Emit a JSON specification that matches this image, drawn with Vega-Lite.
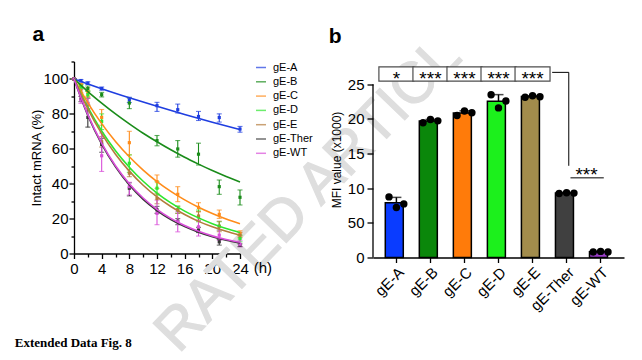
{
  "$schema": "https://vega.github.io/schema/vega-lite/v6.json",
  "background": "white",
  "padding": {"left": 14, "top": 23.5, "right": 5, "bottom": 0},
  "config": {
    "font": "Liberation Sans",
    "view": {"stroke": null},
    "axis": {"labelFont": "Liberation Sans", "titleFont": "Liberation Sans", "labelColor": "black", "titleColor": "black", "domainColor": "black", "tickColor": "black", "grid": false, "titleFontWeight": "normal", "domainWidth": 1.3, "tickWidth": 1.3, "labelFlush": false, "labelOverlap": false}
  },
  "datasets": {
    "curves": [
      {"series": "gE-A", "t": 0, "pct": 100}, {"series": "gE-A", "t": 4, "pct": 94.4}, {"series": "gE-A", "t": 8, "pct": 89.2}, {"series": "gE-A", "t": 12, "pct": 84.3}, {"series": "gE-A", "t": 16, "pct": 79.6}, {"series": "gE-A", "t": 20, "pct": 75.2}, {"series": "gE-A", "t": 24, "pct": 71.0},
      {"series": "gE-B", "t": 0, "pct": 100}, {"series": "gE-B", "t": 2, "pct": 92.8}, {"series": "gE-B", "t": 4, "pct": 86.2}, {"series": "gE-B", "t": 6, "pct": 80.0}, {"series": "gE-B", "t": 8, "pct": 74.3}, {"series": "gE-B", "t": 10, "pct": 68.9}, {"series": "gE-B", "t": 12, "pct": 64.0}, {"series": "gE-B", "t": 14, "pct": 59.4}, {"series": "gE-B", "t": 16, "pct": 55.1}, {"series": "gE-B", "t": 18, "pct": 51.2}, {"series": "gE-B", "t": 20, "pct": 47.5}, {"series": "gE-B", "t": 22, "pct": 44.1}, {"series": "gE-B", "t": 24, "pct": 41.0},
      {"series": "gE-C", "t": 0, "pct": 100}, {"series": "gE-C", "t": 2, "pct": 86.3}, {"series": "gE-C", "t": 4, "pct": 74.4}, {"series": "gE-C", "t": 6, "pct": 64.2}, {"series": "gE-C", "t": 8, "pct": 55.4}, {"series": "gE-C", "t": 10, "pct": 47.8}, {"series": "gE-C", "t": 12, "pct": 41.2}, {"series": "gE-C", "t": 14, "pct": 35.6}, {"series": "gE-C", "t": 16, "pct": 30.7}, {"series": "gE-C", "t": 18, "pct": 26.5}, {"series": "gE-C", "t": 20, "pct": 22.9}, {"series": "gE-C", "t": 22, "pct": 19.7}, {"series": "gE-C", "t": 24, "pct": 17.0},
      {"series": "gE-D", "t": 0, "pct": 100}, {"series": "gE-D", "t": 2, "pct": 83.8}, {"series": "gE-D", "t": 4, "pct": 70.2}, {"series": "gE-D", "t": 6, "pct": 58.9}, {"series": "gE-D", "t": 8, "pct": 49.4}, {"series": "gE-D", "t": 10, "pct": 41.4}, {"series": "gE-D", "t": 12, "pct": 34.6}, {"series": "gE-D", "t": 14, "pct": 29.0}, {"series": "gE-D", "t": 16, "pct": 24.3}, {"series": "gE-D", "t": 18, "pct": 20.4}, {"series": "gE-D", "t": 20, "pct": 17.1}, {"series": "gE-D", "t": 22, "pct": 14.3}, {"series": "gE-D", "t": 24, "pct": 12.0},
      {"series": "gE-E", "t": 0, "pct": 100}, {"series": "gE-E", "t": 2, "pct": 82.9}, {"series": "gE-E", "t": 4, "pct": 68.7}, {"series": "gE-E", "t": 6, "pct": 56.9}, {"series": "gE-E", "t": 8, "pct": 47.2}, {"series": "gE-E", "t": 10, "pct": 39.1}, {"series": "gE-E", "t": 12, "pct": 32.4}, {"series": "gE-E", "t": 14, "pct": 26.9}, {"series": "gE-E", "t": 16, "pct": 22.3}, {"series": "gE-E", "t": 18, "pct": 18.4}, {"series": "gE-E", "t": 20, "pct": 15.3}, {"series": "gE-E", "t": 22, "pct": 12.7}, {"series": "gE-E", "t": 24, "pct": 10.5},
      {"series": "gE-Ther", "t": 0, "pct": 100}, {"series": "gE-Ther", "t": 2, "pct": 79.1}, {"series": "gE-Ther", "t": 4, "pct": 62.6}, {"series": "gE-Ther", "t": 6, "pct": 49.6}, {"series": "gE-Ther", "t": 8, "pct": 39.2}, {"series": "gE-Ther", "t": 10, "pct": 31.0}, {"series": "gE-Ther", "t": 12, "pct": 24.6}, {"series": "gE-Ther", "t": 14, "pct": 19.4}, {"series": "gE-Ther", "t": 16, "pct": 15.4}, {"series": "gE-Ther", "t": 18, "pct": 12.2}, {"series": "gE-Ther", "t": 20, "pct": 9.6}, {"series": "gE-Ther", "t": 22, "pct": 7.6}, {"series": "gE-Ther", "t": 24, "pct": 6.0},
      {"series": "gE-WT", "t": 0, "pct": 100}, {"series": "gE-WT", "t": 2, "pct": 79.6}, {"series": "gE-WT", "t": 4, "pct": 63.3}, {"series": "gE-WT", "t": 6, "pct": 50.3}, {"series": "gE-WT", "t": 8, "pct": 40.0}, {"series": "gE-WT", "t": 10, "pct": 31.8}, {"series": "gE-WT", "t": 12, "pct": 25.3}, {"series": "gE-WT", "t": 14, "pct": 20.1}, {"series": "gE-WT", "t": 16, "pct": 16.0}, {"series": "gE-WT", "t": 18, "pct": 12.7}, {"series": "gE-WT", "t": 20, "pct": 10.1}, {"series": "gE-WT", "t": 22, "pct": 8.0}, {"series": "gE-WT", "t": 24, "pct": 6.4}
    ],
    "points": [
      {"series": "gE-A", "t": 0, "mean": 100, "lo": 100, "hi": 100}, {"series": "gE-A", "t": 1, "mean": 99, "lo": 98.3, "hi": 99.7}, {"series": "gE-A", "t": 2, "mean": 97.6, "lo": 96.8, "hi": 98.4}, {"series": "gE-A", "t": 4, "mean": 94.5, "lo": 93.6, "hi": 95.4}, {"series": "gE-A", "t": 8, "mean": 88, "lo": 86.5, "hi": 89.5}, {"series": "gE-A", "t": 12, "mean": 84.7, "lo": 81.4, "hi": 86.6}, {"series": "gE-A", "t": 15, "mean": 82.4, "lo": 80.5, "hi": 85.6}, {"series": "gE-A", "t": 18, "mean": 78.5, "lo": 76.2, "hi": 81.4}, {"series": "gE-A", "t": 21, "mean": 77.9, "lo": 75.3, "hi": 80}, {"series": "gE-A", "t": 24, "mean": 71.3, "lo": 69.5, "hi": 72.8},
      {"series": "gE-B", "t": 0, "mean": 100, "lo": 100, "hi": 100}, {"series": "gE-B", "t": 1, "mean": 96, "lo": 95, "hi": 97}, {"series": "gE-B", "t": 2, "mean": 94.5, "lo": 93, "hi": 96}, {"series": "gE-B", "t": 4, "mean": 91, "lo": 89.7, "hi": 92.3}, {"series": "gE-B", "t": 8, "mean": 86.2, "lo": 83, "hi": 89}, {"series": "gE-B", "t": 12, "mean": 64.7, "lo": 61.7, "hi": 67.6}, {"series": "gE-B", "t": 15, "mean": 59.9, "lo": 55.2, "hi": 64.7}, {"series": "gE-B", "t": 18, "mean": 56.9, "lo": 50.7, "hi": 63.2}, {"series": "gE-B", "t": 21, "mean": 38.3, "lo": 33.9, "hi": 42.1}, {"series": "gE-B", "t": 24, "mean": 32.2, "lo": 27.8, "hi": 36.4},
      {"series": "gE-C", "t": 0, "mean": 100, "lo": 100, "hi": 100}, {"series": "gE-C", "t": 1, "mean": 96.5, "lo": 95.5, "hi": 97.5}, {"series": "gE-C", "t": 2, "mean": 92.5, "lo": 90, "hi": 95}, {"series": "gE-C", "t": 4, "mean": 78, "lo": 73.5, "hi": 82.5}, {"series": "gE-C", "t": 8, "mean": 63.5, "lo": 56.5, "hi": 70}, {"series": "gE-C", "t": 12, "mean": 41.2, "lo": 37.3, "hi": 45}, {"series": "gE-C", "t": 15, "mean": 33.9, "lo": 29.7, "hi": 38.3}, {"series": "gE-C", "t": 18, "mean": 26.4, "lo": 23.9, "hi": 29.1}, {"series": "gE-C", "t": 21, "mean": 22.4, "lo": 20.1, "hi": 24.9}, {"series": "gE-C", "t": 24, "mean": 11.5, "lo": 10, "hi": 13},
      {"series": "gE-D", "t": 0, "mean": 100, "lo": 100, "hi": 100}, {"series": "gE-D", "t": 1, "mean": 95.5, "lo": 94.5, "hi": 96.5}, {"series": "gE-D", "t": 2, "mean": 91, "lo": 89, "hi": 93}, {"series": "gE-D", "t": 4, "mean": 75.7, "lo": 71, "hi": 80}, {"series": "gE-D", "t": 8, "mean": 51.7, "lo": 46.5, "hi": 56.5}, {"series": "gE-D", "t": 12, "mean": 37.4, "lo": 33.5, "hi": 41.1}, {"series": "gE-D", "t": 15, "mean": 25, "lo": 23, "hi": 27.2}, {"series": "gE-D", "t": 18, "mean": 21, "lo": 18.2, "hi": 24.9}, {"series": "gE-D", "t": 21, "mean": 15.7, "lo": 13.4, "hi": 18.2}, {"series": "gE-D", "t": 24, "mean": 8.6, "lo": 6.7, "hi": 10.5},
      {"series": "gE-E", "t": 0, "mean": 100, "lo": 100, "hi": 100}, {"series": "gE-E", "t": 1, "mean": 93, "lo": 92, "hi": 94}, {"series": "gE-E", "t": 2, "mean": 86, "lo": 83, "hi": 89}, {"series": "gE-E", "t": 4, "mean": 64, "lo": 61, "hi": 67}, {"series": "gE-E", "t": 8, "mean": 46, "lo": 44, "hi": 48}, {"series": "gE-E", "t": 12, "mean": 31.5, "lo": 28.5, "hi": 34.5}, {"series": "gE-E", "t": 15, "mean": 25, "lo": 23, "hi": 27}, {"series": "gE-E", "t": 18, "mean": 21.5, "lo": 19, "hi": 24}, {"series": "gE-E", "t": 21, "mean": 15.5, "lo": 12.5, "hi": 18.5}, {"series": "gE-E", "t": 24, "mean": 10.5, "lo": 9, "hi": 12},
      {"series": "gE-Ther", "t": 0, "mean": 100, "lo": 100, "hi": 100}, {"series": "gE-Ther", "t": 1, "mean": 88.5, "lo": 87, "hi": 90}, {"series": "gE-Ther", "t": 2, "mean": 78, "lo": 72.4, "hi": 85}, {"series": "gE-Ther", "t": 4, "mean": 62.5, "lo": 58, "hi": 66}, {"series": "gE-Ther", "t": 8, "mean": 37.4, "lo": 33, "hi": 40.5}, {"series": "gE-Ther", "t": 12, "mean": 25, "lo": 23, "hi": 27}, {"series": "gE-Ther", "t": 15, "mean": 18.5, "lo": 16.5, "hi": 20}, {"series": "gE-Ther", "t": 18, "mean": 13.5, "lo": 12, "hi": 15}, {"series": "gE-Ther", "t": 21, "mean": 6.7, "lo": 4.8, "hi": 8}, {"series": "gE-Ther", "t": 24, "mean": 4.8, "lo": 4, "hi": 5.5},
      {"series": "gE-WT", "t": 0, "mean": 100, "lo": 100, "hi": 100}, {"series": "gE-WT", "t": 1, "mean": 88, "lo": 86, "hi": 90}, {"series": "gE-WT", "t": 2, "mean": 86, "lo": 83, "hi": 89}, {"series": "gE-WT", "t": 4, "mean": 56, "lo": 47, "hi": 69}, {"series": "gE-WT", "t": 8, "mean": 38.3, "lo": 33.5, "hi": 40.8}, {"series": "gE-WT", "t": 12, "mean": 23, "lo": 16.5, "hi": 30.6}, {"series": "gE-WT", "t": 15, "mean": 18.2, "lo": 12.4, "hi": 23.9}, {"series": "gE-WT", "t": 18, "mean": 15.3, "lo": 10, "hi": 19.1}, {"series": "gE-WT", "t": 21, "mean": 10.5, "lo": 7.6, "hi": 13.4}, {"series": "gE-WT", "t": 24, "mean": 5.3, "lo": 3.8, "hi": 7.6}
    ],
    "mfi": [
      {"group": "gE-A", "rep": 1, "mfi": 8.75}, {"group": "gE-A", "rep": 2, "mfi": 7.22}, {"group": "gE-A", "rep": 3, "mfi": 7.74},
      {"group": "gE-B", "rep": 1, "mfi": 19.45}, {"group": "gE-B", "rep": 2, "mfi": 19.92}, {"group": "gE-B", "rep": 3, "mfi": 19.73},
      {"group": "gE-C", "rep": 1, "mfi": 20.5}, {"group": "gE-C", "rep": 2, "mfi": 21.15}, {"group": "gE-C", "rep": 3, "mfi": 20.9},
      {"group": "gE-D", "rep": 1, "mfi": 23.5}, {"group": "gE-D", "rep": 2, "mfi": 21.6}, {"group": "gE-D", "rep": 3, "mfi": 22.6},
      {"group": "gE-E", "rep": 1, "mfi": 23.15}, {"group": "gE-E", "rep": 2, "mfi": 23.35}, {"group": "gE-E", "rep": 3, "mfi": 23.2},
      {"group": "gE-Ther", "rep": 1, "mfi": 9.25}, {"group": "gE-Ther", "rep": 2, "mfi": 9.35}, {"group": "gE-Ther", "rep": 3, "mfi": 9.3},
      {"group": "gE-WT", "rep": 1, "mfi": 0.8}, {"group": "gE-WT", "rep": 2, "mfi": 0.88}, {"group": "gE-WT", "rep": 3, "mfi": 0.8}
    ],
    "sig": [
      {"group": "gE-A", "label": "*"}, {"group": "gE-B", "label": "***"}, {"group": "gE-C", "label": "***"}, {"group": "gE-D", "label": "***"}, {"group": "gE-E", "label": "***"}
    ],
    "one": [{}]
  },
  "bounds": "flush",
  "spacing": 133,
  "resolve": {"scale": {"color": "independent"}},
  "hconcat": [
    {
      "width": 166,
      "height": 192,
      "resolve": {"axis": {"x": "independent", "y": "independent"}},
      "layer": [
        {
          "data": {"name": "one"},
          "mark": {"type": "text", "text": "RATED ARTICL", "angle": -46, "fontSize": 58, "align": "left", "baseline": "middle", "color": "#dedede", "stroke": "#dedede", "strokeWidth": 1.2, "font": "Liberation Sans"},
          "encoding": {
            "x": {"datum": 13.34, "type": "quantitative", "scale": {"domain": [0, 24], "nice": false, "zero": false}, "axis": null},
            "y": {"datum": -50.9, "type": "quantitative", "scale": {"domain": [0, 110], "nice": false}, "axis": null}
          }
        },
        {
          "data": {"name": "points"},
          "mark": {"type": "errorbar", "ticks": {"size": 5}, "thickness": 1.1},
          "encoding": {
            "x": {"field": "t", "type": "quantitative", "scale": {"domain": [0, 24], "nice": false, "zero": false}, "axis": null},
            "y": {"field": "lo", "type": "quantitative", "scale": {"domain": [0, 110], "nice": false}, "axis": null},
            "y2": {"field": "hi"},
            "color": {
              "field": "series", "type": "nominal",
              "scale": {"domain": ["gE-A", "gE-B", "gE-C", "gE-D", "gE-E", "gE-Ther", "gE-WT"], "range": ["#1f3ee0", "#1a8c1a", "#ff8c1a", "#2ee62e", "#b47c3c", "#333333", "#d94fd9"]},
              "legend": {"title": null, "orient": "right", "offset": 11, "symbolType": "stroke", "symbolSize": 100, "symbolStrokeWidth": 1.5, "labelFontSize": 11, "labelFont": "Liberation Sans", "labelColor": "black", "rowPadding": 3.3, "padding": 0, "labelOffset": 6}
            }
          }
        },
        {
          "data": {"name": "points"},
          "mark": {"type": "point", "filled": true, "size": 10, "shape": "square", "opacity": 1},
          "encoding": {
            "x": {"field": "t", "type": "quantitative", "scale": {"domain": [0, 24], "nice": false, "zero": false}, "axis": {"values": [2, 6, 10, 14, 18, 22], "labels": false, "domain": false, "tickSize": 3.5, "title": null, "orient": "bottom"}},
            "y": {"field": "mean", "type": "quantitative", "scale": {"domain": [0, 110], "nice": false}, "axis": {"values": [10, 30, 50, 70, 90, 110], "labels": false, "domain": false, "tickSize": 3, "title": null, "orient": "left"}},
            "color": {
              "field": "series", "type": "nominal",
              "legend": {"title": null, "orient": "right", "offset": 11, "symbolType": "stroke", "symbolSize": 100, "symbolStrokeWidth": 1.5, "labelFontSize": 11, "labelFont": "Liberation Sans", "labelColor": "black", "rowPadding": 3.3, "padding": 0, "labelOffset": 6}
            }
          }
        },
        {
          "data": {"name": "curves"},
          "mark": {"type": "line", "strokeWidth": 1.6, "interpolate": "monotone"},
          "encoding": {
            "x": {"field": "t", "type": "quantitative", "scale": {"domain": [0, 24], "nice": false, "zero": false}, "axis": {"values": [0, 4, 8, 12, 16, 20, 24], "title": null, "labelFontSize": 15, "tickSize": 5, "labelPadding": 3, "orient": "bottom"}},
            "y": {"field": "pct", "type": "quantitative", "scale": {"domain": [0, 110], "nice": false}, "axis": {"values": [0, 20, 40, 60, 80, 100], "title": "Intact mRNA (%)", "titleFontSize": 13, "labelFontSize": 15, "tickSize": 5, "labelPadding": 1, "titlePadding": -1, "orient": "left"}},
            "color": {
              "field": "series", "type": "nominal",
              "legend": {"title": null, "orient": "right", "offset": 11, "symbolType": "stroke", "symbolSize": 100, "symbolStrokeWidth": 1.5, "labelFontSize": 11, "labelFont": "Liberation Sans", "labelColor": "black", "rowPadding": 3.3, "padding": 0, "labelOffset": 6}
            }
          }
        },
        {
          "data": {"name": "one"},
          "mark": {"type": "text", "text": "a", "fontSize": 21, "fontWeight": "bold", "align": "left", "baseline": "alphabetic", "font": "Liberation Sans"},
          "encoding": {
            "x": {"datum": -6.0, "type": "quantitative", "scale": {"domain": [0, 24], "nice": false, "zero": false}, "axis": null},
            "y": {"datum": 121.6, "type": "quantitative", "scale": {"domain": [0, 110], "nice": false}, "axis": null}
          }
        },
        {
          "data": {"name": "one"},
          "mark": {"type": "text", "text": "(h)", "fontSize": 15, "align": "center", "baseline": "alphabetic", "font": "Liberation Sans"},
          "encoding": {
            "x": {"datum": 27.3, "type": "quantitative", "scale": {"domain": [0, 24], "nice": false, "zero": false}, "axis": null},
            "y": {"datum": -11.3, "type": "quantitative", "scale": {"domain": [0, 110], "nice": false}, "axis": null}
          }
        },
        {
          "data": {"name": "one"},
          "mark": {"type": "text", "text": "Extended Data Fig. 8", "fontSize": 13, "fontWeight": "bold", "align": "left", "baseline": "alphabetic", "font": "Liberation Serif"},
          "encoding": {
            "x": {"datum": -8.57, "type": "quantitative", "scale": {"domain": [0, 24], "nice": false, "zero": false}, "axis": null},
            "y": {"datum": -53.8, "type": "quantitative", "scale": {"domain": [0, 110], "nice": false}, "axis": null}
          }
        }
      ]
    },
    {
      "width": 251,
      "height": 196,
      "resolve": {"scale": {"x": "independent"}, "axis": {"x": "independent"}},
      "layer": [
        {
          "layer": [
            {
              "data": {"name": "mfi"},
              "mark": {"type": "errorbar", "extent": "stdev", "ticks": {"size": 10}, "thickness": 1.5, "color": "black"},
              "encoding": {
                "x": {"field": "group", "type": "nominal", "scale": {"domain": ["gE-A", "gE-B", "gE-C", "gE-D", "gE-E", "gE-Ther", "gE-WT"], "paddingInner": 0.347, "paddingOuter": 0.361}, "axis": {"title": null, "labelAngle": -45, "labelFontSize": 15, "tickSize": 5, "labelPadding": 2, "orient": "bottom"}},
                "y": {"field": "mfi", "type": "quantitative", "scale": {"domain": [0, 28.3], "nice": false}, "axis": {"values": [0, 5, 10, 15, 20, 25], "title": "MFI value (x1000)", "titleFontSize": 12, "labelFontSize": 15, "tickSize": 6, "labelPadding": 3, "domain": false, "titlePadding": 4, "labelExpr": "datum.value == 5 ? '50' : datum.label"}}
              }
            },
            {
              "data": {"name": "mfi"},
              "mark": {"type": "bar", "stroke": "black", "strokeWidth": 1.5},
              "encoding": {
                "x": {"field": "group", "type": "nominal", "scale": {"domain": ["gE-A", "gE-B", "gE-C", "gE-D", "gE-E", "gE-Ther", "gE-WT"], "paddingInner": 0.347, "paddingOuter": 0.361}, "axis": {"title": null, "labelAngle": -45, "labelFontSize": 15, "tickSize": 5, "labelPadding": 2, "orient": "bottom"}},
                "y": {"aggregate": "mean", "field": "mfi", "type": "quantitative", "scale": {"domain": [0, 28.3], "nice": false}, "axis": {"values": [0, 5, 10, 15, 20, 25], "title": "MFI value (x1000)", "titleFontSize": 12, "labelFontSize": 15, "tickSize": 6, "labelPadding": 3, "domain": false, "titlePadding": 4, "labelExpr": "datum.value == 5 ? '50' : datum.label"}},
                "color": {"field": "group", "type": "nominal", "scale": {"domain": ["gE-A", "gE-B", "gE-C", "gE-D", "gE-E", "gE-Ther", "gE-WT"], "range": ["#0a3cff", "#0a870a", "#ff7b0a", "#1cf01c", "#a28c4c", "#404040", "#9b3fc8"]}, "legend": null}
              }
            },
            {
              "data": {"name": "mfi"},
              "mark": {"type": "circle", "size": 55, "color": "black", "opacity": 1},
              "encoding": {
                "x": {"field": "group", "type": "nominal", "axis": {"title": null, "labelAngle": -45, "labelFontSize": 15, "tickSize": 5, "labelPadding": 2, "orient": "bottom"}},
                "xOffset": {"field": "rep", "type": "nominal"},
                "y": {"field": "mfi", "type": "quantitative", "scale": {"domain": [0, 28.3], "nice": false}, "axis": {"values": [0, 5, 10, 15, 20, 25], "title": "MFI value (x1000)", "titleFontSize": 12, "labelFontSize": 15, "tickSize": 6, "labelPadding": 3, "domain": false, "titlePadding": 4, "labelExpr": "datum.value == 5 ? '50' : datum.label"}}
              }
            },
            {
              "data": {"name": "sig"},
              "mark": {"type": "bar", "fill": "white", "stroke": "#4d4d4d", "strokeWidth": 1.2, "width": 35},
              "encoding": {
                "x": {"field": "group", "type": "nominal", "axis": {"title": null, "labelAngle": -45, "labelFontSize": 15, "tickSize": 5, "labelPadding": 2, "orient": "bottom"}},
                "y": {"datum": 25.46, "type": "quantitative", "scale": {"domain": [0, 28.3], "nice": false}, "axis": {"values": [0, 5, 10, 15, 20, 25], "title": "MFI value (x1000)", "titleFontSize": 12, "labelFontSize": 15, "tickSize": 6, "labelPadding": 3, "domain": false, "titlePadding": 4, "labelExpr": "datum.value == 5 ? '50' : datum.label"}},
                "y2": {"datum": 27.52}
              }
            },
            {
              "data": {"name": "sig"},
              "mark": {"type": "text", "fontSize": 19, "align": "center", "baseline": "alphabetic", "color": "black"},
              "encoding": {
                "x": {"field": "group", "type": "nominal", "axis": {"title": null, "labelAngle": -45, "labelFontSize": 15, "tickSize": 5, "labelPadding": 2, "orient": "bottom"}},
                "y": {"datum": 24.91, "type": "quantitative", "scale": {"domain": [0, 28.3], "nice": false}, "axis": {"values": [0, 5, 10, 15, 20, 25], "title": "MFI value (x1000)", "titleFontSize": 12, "labelFontSize": 15, "tickSize": 6, "labelPadding": 3, "domain": false, "titlePadding": 4, "labelExpr": "datum.value == 5 ? '50' : datum.label"}},
                "text": {"field": "label"}
              }
            }
          ]
        },
        {
          "data": {"name": "one"},
          "layer": [
            {
              "mark": {"type": "rule", "color": "black", "strokeWidth": 1.3},
              "encoding": {
                "x": {"datum": -0.69, "type": "quantitative", "scale": {"domain": [-0.69, 6.65], "nice": false, "zero": false}, "axis": null},
                "y": {"datum": 0, "type": "quantitative", "scale": {"domain": [0, 28.3], "nice": false}, "axis": {"values": [0, 5, 10, 15, 20, 25], "title": "MFI value (x1000)", "titleFontSize": 12, "labelFontSize": 15, "tickSize": 6, "labelPadding": 3, "domain": false, "titlePadding": 4, "labelExpr": "datum.value == 5 ? '50' : datum.label"}},
                "y2": {"datum": 25}
              }
            },
            {
              "mark": {"type": "rule", "color": "black", "strokeWidth": 1},
              "encoding": {
                "x": {"datum": 4.549, "type": "quantitative"},
                "x2": {"datum": 5.035},
                "y": {"datum": 26.73, "type": "quantitative", "axis": {"values": [0, 5, 10, 15, 20, 25], "title": "MFI value (x1000)", "titleFontSize": 12, "labelFontSize": 15, "tickSize": 6, "labelPadding": 3, "domain": false, "titlePadding": 4, "labelExpr": "datum.value == 5 ? '50' : datum.label"}}
              }
            },
            {
              "mark": {"type": "rule", "color": "black", "strokeWidth": 1},
              "encoding": {
                "x": {"datum": 5.035, "type": "quantitative"},
                "y": {"datum": 13.24, "type": "quantitative", "axis": {"values": [0, 5, 10, 15, 20, 25], "title": "MFI value (x1000)", "titleFontSize": 12, "labelFontSize": 15, "tickSize": 6, "labelPadding": 3, "domain": false, "titlePadding": 4, "labelExpr": "datum.value == 5 ? '50' : datum.label"}},
                "y2": {"datum": 26.73}
              }
            },
            {
              "mark": {"type": "rule", "color": "black", "strokeWidth": 1},
              "encoding": {
                "x": {"datum": 5.085, "type": "quantitative"},
                "x2": {"datum": 6.059},
                "y": {"datum": 11.5, "type": "quantitative", "axis": {"values": [0, 5, 10, 15, 20, 25], "title": "MFI value (x1000)", "titleFontSize": 12, "labelFontSize": 15, "tickSize": 6, "labelPadding": 3, "domain": false, "titlePadding": 4, "labelExpr": "datum.value == 5 ? '50' : datum.label"}}
              }
            },
            {
              "mark": {"type": "text", "text": "***", "fontSize": 19, "align": "center", "baseline": "alphabetic", "color": "black"},
              "encoding": {
                "x": {"datum": 5.553, "type": "quantitative"},
                "y": {"datum": 11.04, "type": "quantitative", "axis": {"values": [0, 5, 10, 15, 20, 25], "title": "MFI value (x1000)", "titleFontSize": 12, "labelFontSize": 15, "tickSize": 6, "labelPadding": 3, "domain": false, "titlePadding": 4, "labelExpr": "datum.value == 5 ? '50' : datum.label"}}
              }
            },
            {
              "mark": {"type": "text", "text": "b", "fontSize": 21, "fontWeight": "bold", "align": "left", "baseline": "alphabetic", "color": "black"},
              "encoding": {
                "x": {"datum": -1.987, "type": "quantitative"},
                "y": {"datum": 31.0, "type": "quantitative", "axis": {"values": [0, 5, 10, 15, 20, 25], "title": "MFI value (x1000)", "titleFontSize": 12, "labelFontSize": 15, "tickSize": 6, "labelPadding": 3, "domain": false, "titlePadding": 4, "labelExpr": "datum.value == 5 ? '50' : datum.label"}}
              }
            }
          ]
        }
      ]
    }
  ]
}
